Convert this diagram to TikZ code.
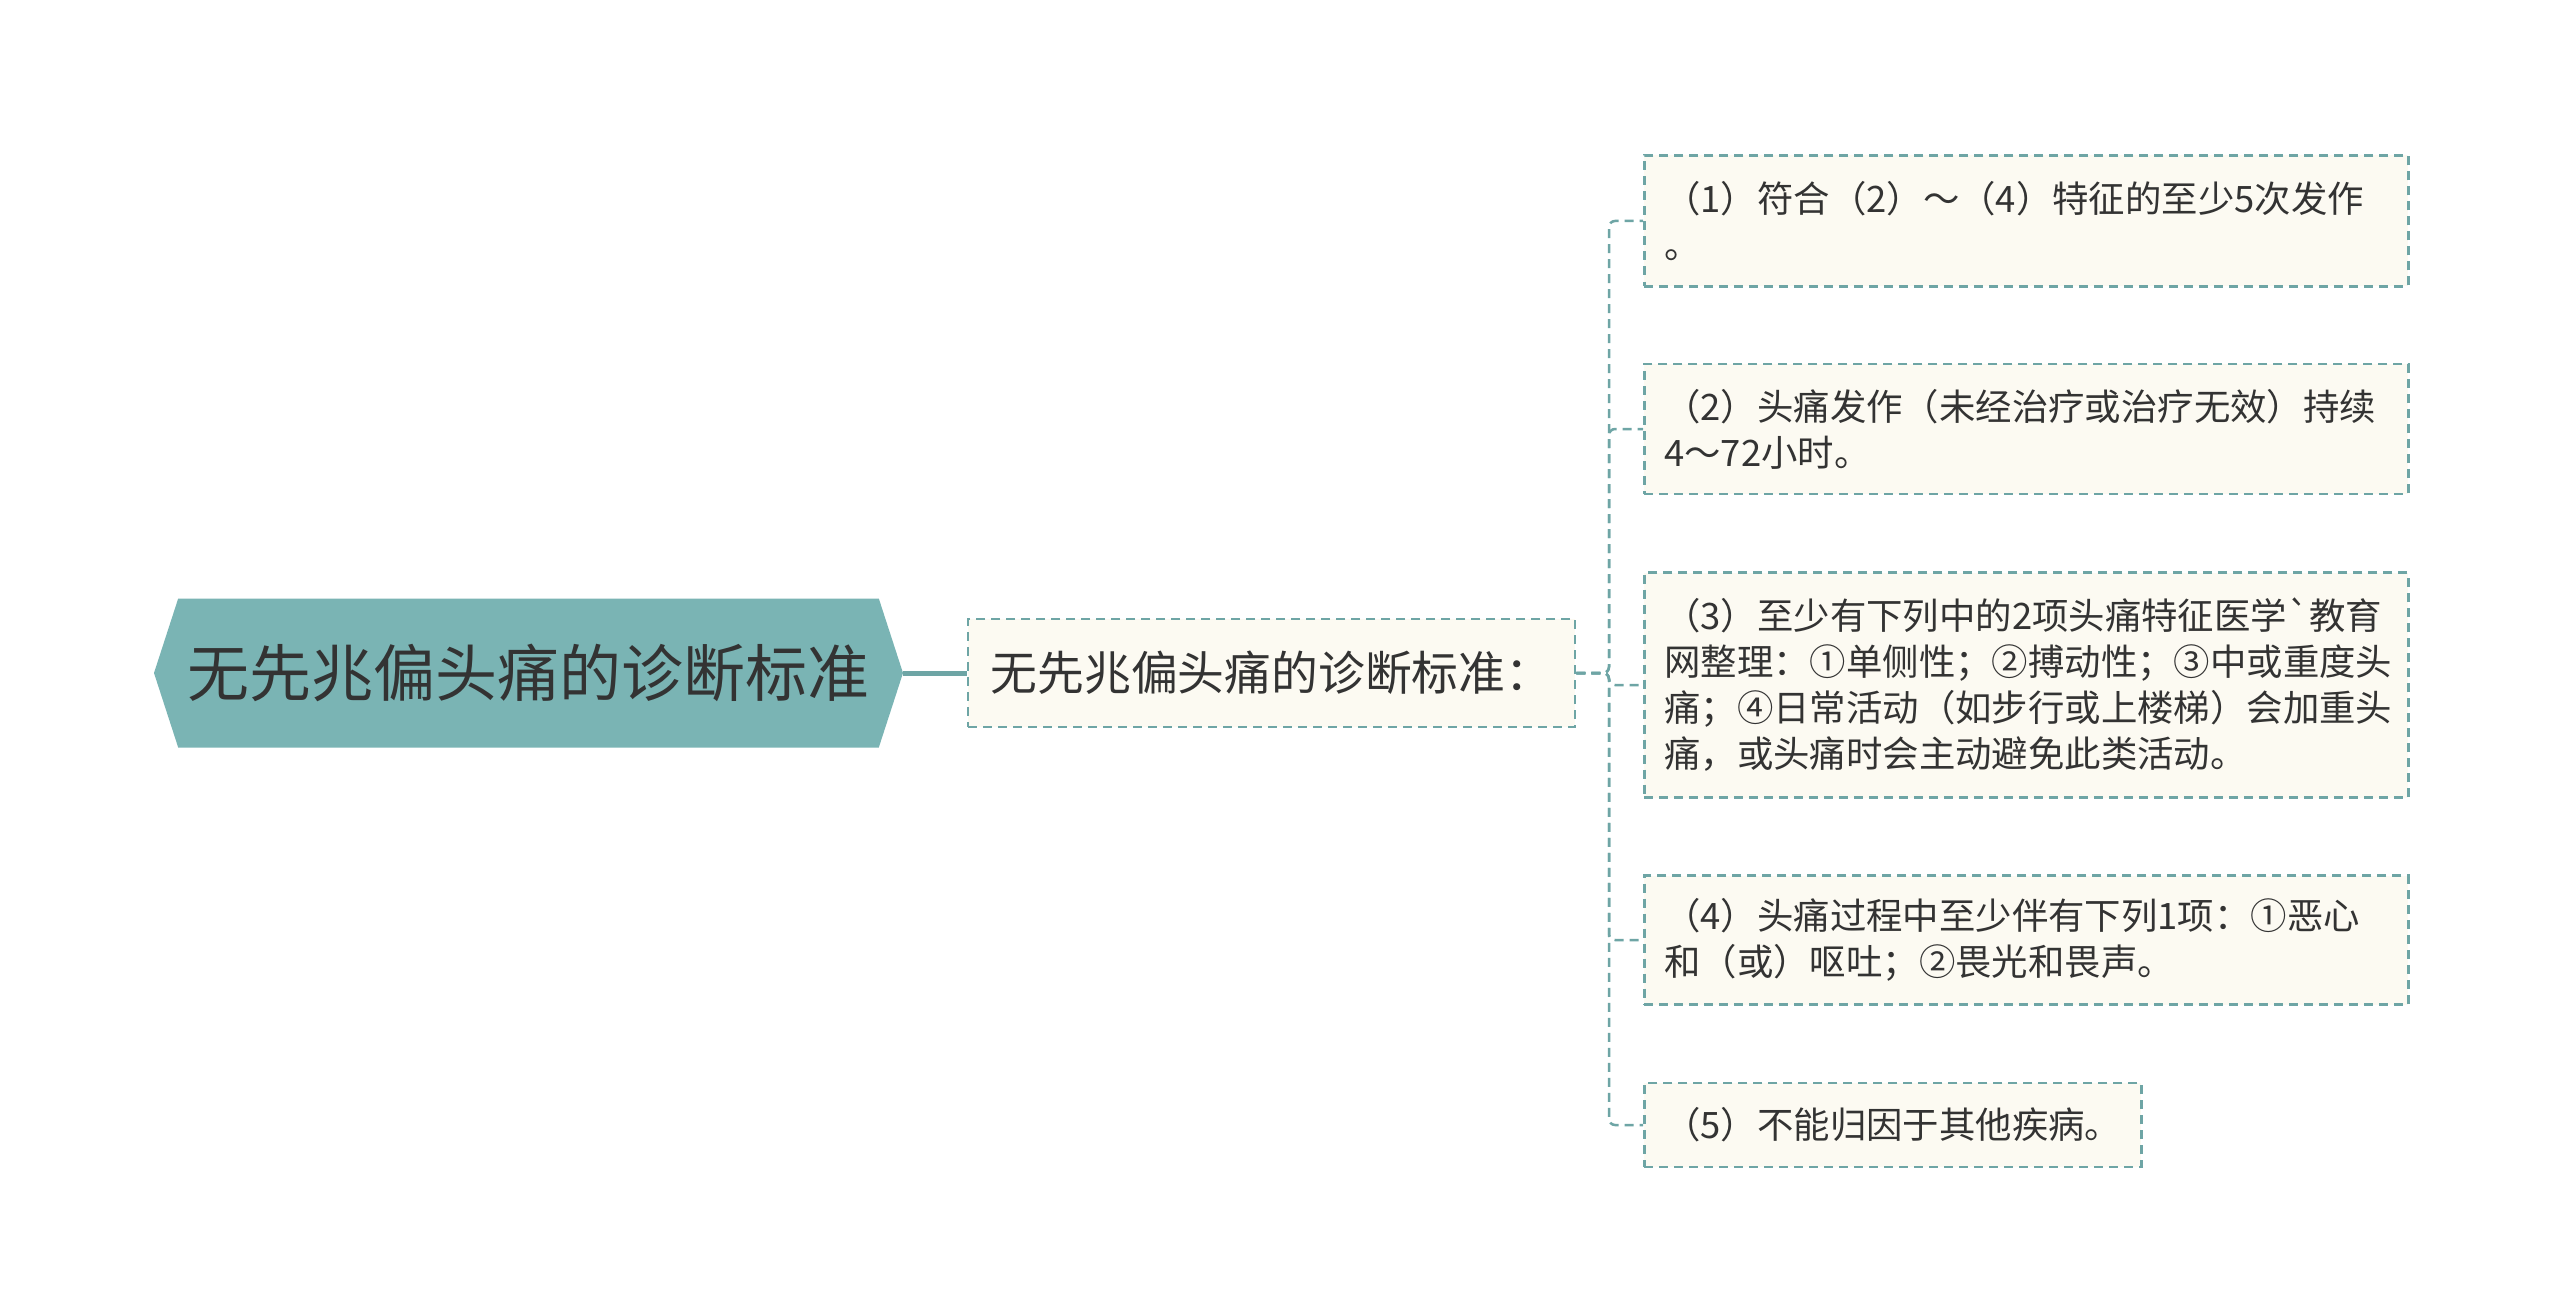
\documentclass[tikz,border=0pt]{standalone}
\usepackage{fontspec}
\newfontfamily\cjk{Noto Sans CJK SC}
\usetikzlibrary{shapes.symbols}

\definecolor{rootfill}{HTML}{7AB4B4}
\definecolor{linecol}{HTML}{6EA5A5}
\definecolor{boxfill}{HTML}{FCFAF2}
\definecolor{txt}{HTML}{333333}

\tikzset{
  rootnode/.style={shape=signal, signal to=west and east, signal pointer angle=144,
    fill=rootfill, text=txt, font=\cjk\fontsize{31}{36}\selectfont,
    minimum width=374.5pt, minimum height=74.5pt, inner sep=0pt},
  midnode/.style={draw=linecol, dash pattern=on 4.5pt off 3pt, line width=1.25pt, fill=boxfill,
    text=txt, font=\cjk\fontsize{23.4}{28}\selectfont,
    minimum width=303.5pt, minimum height=54pt, inner sep=0pt},
  leafnode/.style={draw=linecol, dash pattern=on 4.5pt off 3pt, line width=1.25pt, fill=boxfill,
    text=txt, font=\cjk\fontsize{18.2}{23}\selectfont, align=left, anchor=west, inner xsep=10pt},
  link/.style={draw=linecol, line width=2.5pt},
  dlink/.style={draw=linecol, dash pattern=on 4.5pt off 3pt, line width=1.25pt, rounded corners=3pt},
}

\begin{document}
\begin{tikzpicture}[x=0.5pt, y=-0.5pt]
  \useasboundingbox[fill=white] (0,0) rectangle (2560,1316);

  % root and first level
  \node[rootnode] (root) at (528.5,673) {无先兆偏头痛的诊断标准};
  \node[midnode] (mid) at (1271.5,673) {无先兆偏头痛的诊断标准：};

  % criteria
  \node[leafnode, text width=362pt, minimum height=65.5pt] (b1) at (1643,221)
    {（1）符合（2）～（4）特征的至少5次发作\\。};
  \node[leafnode, text width=362pt, minimum height=65pt] (b2) at (1643,429)
    {（2）头痛发作（未经治疗或治疗无效）持续\\4～72小时。};
  \node[leafnode, text width=362pt, minimum height=112.5pt] (b3) at (1643,685)
    {（3）至少有下列中的2项头痛特征医学`教育\\网整理：①单侧性；②搏动性；③中或重度头\\痛；④日常活动（如步行或上楼梯）会加重头\\痛，或头痛时会主动避免此类活动。};
  \node[leafnode, text width=362pt, minimum height=64.5pt] (b4) at (1643,940)
    {（4）头痛过程中至少伴有下列1项：①恶心\\和（或）呕吐；②畏光和畏声。};
  \node[leafnode, minimum height=42pt] (b5) at (1643,1125)
    {（5）不能归因于其他疾病。};

  % connectors
  \draw[link] (root.east) -- (mid.west);
  \coordinate (trunk) at (1609,673);
  \foreach \b in {b1,b2,b3,b4,b5}
    \draw[dlink] (mid.east) -- (trunk) |- (\b.west);
\end{tikzpicture}
\end{document}
